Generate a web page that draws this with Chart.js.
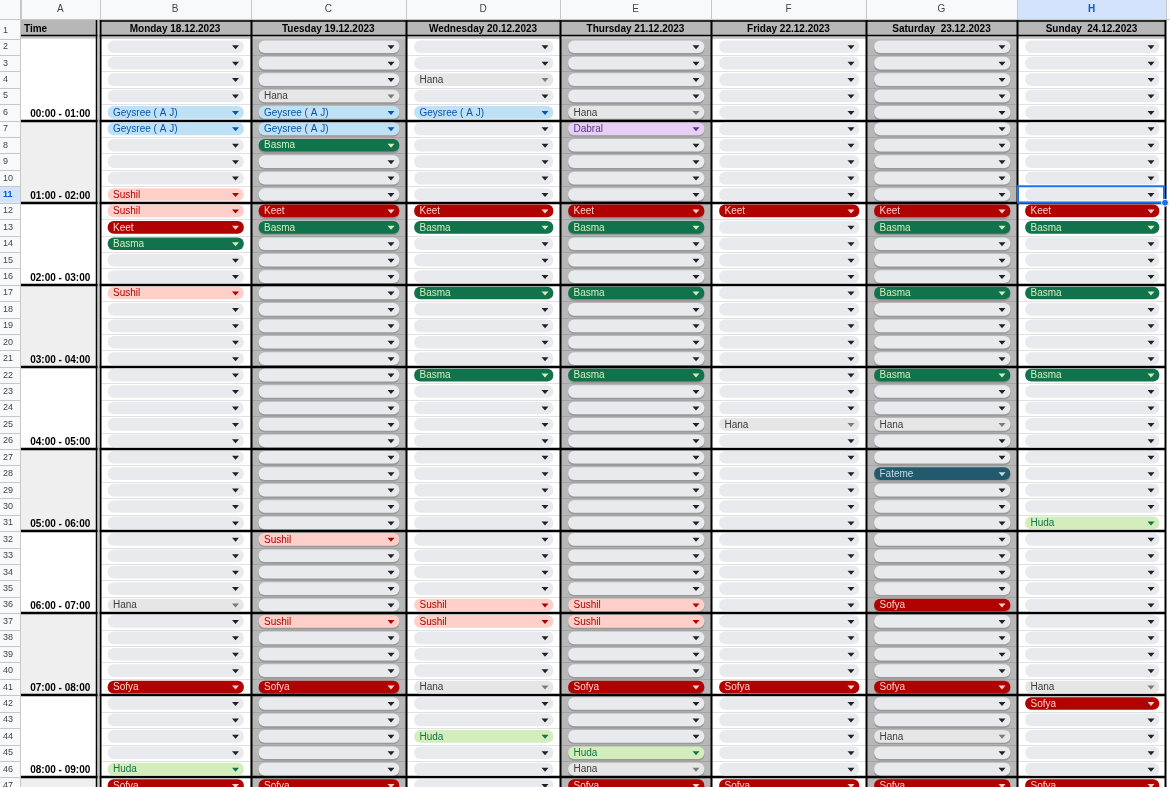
<!DOCTYPE html>
<html>
<head>
<meta charset="utf-8">
<script src="https://cdn.jsdelivr.net/npm/chart.js@4.4.1/dist/chart.umd.min.js"></script>
<style>
  html, body { margin: 0; padding: 0; background: #fff; overflow: hidden; width: 1170px; height: 787px; }
  #sheet { display: block; }
</style>
</head>
<body>
<canvas id="sheet" width="1170" height="787" style="width:1170px;height:787px"></canvas>
<script>
// ---------------- DATA ----------------
const columnLetters = ['A', 'B', 'C', 'D', 'E', 'F', 'G', 'H'];
const timeHeader = 'Time';
const days = ['Monday 18.12.2023', 'Tuesday 19.12.2023', 'Wednesday 20.12.2023', 'Thursday 21.12.2023',
              'Friday 22.12.2023', 'Saturday  23.12.2023', 'Sunday  24.12.2023'];
const timeSlots = ['00:00 - 01:00', '01:00 - 02:00', '02:00 - 03:00', '03:00 - 04:00', '04:00 - 05:00',
                   '05:00 - 06:00', '06:00 - 07:00', '07:00 - 08:00', '08:00 - 09:00'];
const rowNumbers = [1, 2, 3, 4, 5, 6, 7, 8, 9, 10, 11, 12, 13, 14, 15, 16, 17, 18, 19, 20, 21, 22, 23, 24,
                    25, 26, 27, 28, 29, 30, 31, 32, 33, 34, 35, 36, 37, 38, 39, 40, 41, 42, 43, 44, 45, 46, 47];
// rows 2 .. 47 of each day column
const monday = [
  '', '', '', '', 'Geysree ( A J)',
  'Geysree ( A J)', '', '', '', 'Sushil',
  'Sushil', 'Keet', 'Basma', '', '',
  'Sushil', '', '', '', '',
  '', '', '', '', '',
  '', '', '', '', '',
  '', '', '', '', 'Hana',
  '', '', '', '', 'Sofya',
  '', '', '', '', 'Huda',
  'Sofya'];
const tuesday = [
  '', '', '', 'Hana', 'Geysree ( A J)',
  'Geysree ( A J)', 'Basma', '', '', '',
  'Keet', 'Basma', '', '', '',
  '', '', '', '', '',
  '', '', '', '', '',
  '', '', '', '', '',
  'Sushil', '', '', '', '',
  'Sushil', '', '', '', 'Sofya',
  '', '', '', '', '',
  'Sofya'];
const wednesday = [
  '', '', 'Hana', '', 'Geysree ( A J)',
  '', '', '', '', '',
  'Keet', 'Basma', '', '', '',
  'Basma', '', '', '', '',
  'Basma', '', '', '', '',
  '', '', '', '', '',
  '', '', '', '', 'Sushil',
  'Sushil', '', '', '', 'Hana',
  '', '', 'Huda', '', '',
  ''];
const thursday = [
  '', '', '', '', 'Hana',
  'Dabral', '', '', '', '',
  'Keet', 'Basma', '', '', '',
  'Basma', '', '', '', '',
  'Basma', '', '', '', '',
  '', '', '', '', '',
  '', '', '', '', 'Sushil',
  'Sushil', '', '', '', 'Sofya',
  '', '', '', 'Huda', 'Hana',
  'Sofya'];
const friday = [
  '', '', '', '', '',
  '', '', '', '', '',
  'Keet', '', '', '', '',
  '', '', '', '', '',
  '', '', '', 'Hana', '',
  '', '', '', '', '',
  '', '', '', '', '',
  '', '', '', '', 'Sofya',
  '', '', '', '', '',
  'Sofya'];
const saturday = [
  '', '', '', '', '',
  '', '', '', '', '',
  'Keet', 'Basma', '', '', '',
  'Basma', '', '', '', '',
  'Basma', '', '', 'Hana', '',
  '', 'Fateme', '', '', '',
  '', '', '', '', 'Sofya',
  '', '', '', '', 'Sofya',
  '', '', 'Hana', '', '',
  'Sofya'];
const sunday = [
  '', '', '', '', '',
  '', '', '', '', '',
  'Keet', 'Basma', '', '', '',
  'Basma', '', '', '', '',
  'Basma', '', '', '', '',
  '', '', '', '', 'Huda',
  '', '', '', '', '',
  '', '', '', '', 'Hana',
  'Sofya', '', '', '', '',
  'Sofya'];
const schedule = [monday, tuesday, wednesday, thursday, friday, saturday, sunday];
const firstRow = 2;
const selectedCell = { day: 6, row: 11 };

// ---------------- LAYOUT / STYLE ----------------
const FONT = '"Liberation Sans", Arial, sans-serif';
const SHADE = '#b7b7b7';
const shadedDays = [false, true, false, true, false, true, false];
const chipStyles = {
  '':               { bg: '#e8eaed', fg: '#202124', arrow: '#202124' },
  'Hana':           { bg: '#e6e6e6', fg: '#3c3c3c', arrow: '#7a7a7a' },
  'Geysree ( A J)': { bg: '#bfe1f6', fg: '#0a53a8' },
  'Sushil':         { bg: '#ffcfc9', fg: '#b10202' },
  'Keet':           { bg: '#b10202', fg: '#ffcfc9' },
  'Sofya':          { bg: '#b10202', fg: '#ffcfc9' },
  'Basma':          { bg: '#11734b', fg: '#d4edbc' },
  'Huda':           { bg: '#d4edbc', fg: '#11734b' },
  'Dabral':         { bg: '#e6cff2', fg: '#5a3286' },
  'Fateme':         { bg: '#215a6c', fg: '#c6dbe1' }
};
const styleOf = n => chipStyles[n] || chipStyles[''];
// relative column widths (column A, then each day column)
const colAWidth = 78.5;
const dayColWidths = [151, 155.5, 154, 151, 155, 151, 149];
const UNIT = 152.36;
const AW = colAWidth / UNIT;
const dayEdges = [0];
dayColWidths.forEach((w, i) => dayEdges.push(dayEdges[i] + w / UNIT));
const X_MAX = dayEdges[dayEdges.length - 1];
const CANVAS_H = 787, ROW_PX = 16.42, HEADER_PX = 20;
const Y_MIN = 0.373;
const Y_MAX = Y_MIN + (CANVAS_H - HEADER_PX) / ROW_PX;
const CHIP_L = 8.5 / UNIT, CHIP_R = 7 / UNIT;
const letterCenters = [-AW / 2].concat(days.map((d, i) => (dayEdges[i] + dayEdges[i + 1]) / 2));

// ---------------- PLUGIN: sheet grid & texts ----------------
const sheetPlugin = {
  id: 'sheet',
  beforeDraw(chart) {
    const { ctx, chartArea: ca, scales: { x, y } } = chart;
    const W = chart.width, H = chart.height;
    const X = v => x.getPixelForValue(v), Y = v => y.getPixelForValue(v);
    const E = i => X(dayEdges[i]);
    ctx.save();
    ctx.fillStyle = '#fff'; ctx.fillRect(0, 0, W, H);
    // column-letter header strip
    ctx.fillStyle = '#f8f9fa'; ctx.fillRect(0, 0, W, ca.top);
    ctx.fillStyle = '#d3e3fd'; ctx.fillRect(E(selectedCell.day), 0, E(selectedCell.day + 1) - E(selectedCell.day), ca.top);
    // row-number strip
    ctx.fillStyle = '#f8f9fa'; ctx.fillRect(0, ca.top, ca.left, H - ca.top);
    ctx.fillStyle = '#d3e3fd';
    ctx.fillRect(0, Y(selectedCell.row - 0.5), ca.left, Y(selectedCell.row + 0.5) - Y(selectedCell.row - 0.5));
    ctx.strokeStyle = '#c7c7c7'; ctx.lineWidth = 1;
    ctx.beginPath();
    [X(-AW)].concat(dayEdges.map(v => X(v))).forEach(p => {
      const px = Math.round(p) + 0.5; ctx.moveTo(px, 0); ctx.lineTo(px, ca.top);
    });
    ctx.moveTo(0, ca.top - 0.5); ctx.lineTo(W, ca.top - 0.5);
    rowNumbers.forEach(r => {
      const py = Math.round(Y(r + 0.5)) + 0.5; ctx.moveTo(0, py); ctx.lineTo(ca.left, py);
    });
    ctx.moveTo(ca.left - 0.5, 0); ctx.lineTo(ca.left - 0.5, H);
    ctx.stroke();

    const r2 = Y(firstRow - 0.5);
    // header row background
    ctx.fillStyle = SHADE; ctx.fillRect(ca.left, ca.top, E(7) - ca.left, r2 - ca.top);
    // column A time groups
    for (let g = 0; g <= timeSlots.length; g++) {
      const top = Y(firstRow - 0.5 + 5 * g), bot = Math.min(Y(firstRow + 4.5 + 5 * g), H);
      ctx.fillStyle = g % 2 ? '#efefef' : '#ffffff';
      ctx.fillRect(ca.left, top, X(0) - ca.left, bot - top);
    }
    // shaded day columns
    days.forEach((d, i) => {
      if (shadedDays[i]) { ctx.fillStyle = SHADE; ctx.fillRect(E(i), r2, E(i + 1) - E(i), H - r2); }
    });
    ctx.restore();
  },
  beforeDatasetsDraw(chart) {
    const { ctx, chartArea: ca, scales: { x, y } } = chart;
    const H = chart.height;
    const X = v => x.getPixelForValue(v), Y = v => y.getPixelForValue(v);
    const E = i => X(dayEdges[i]);
    ctx.save();
    // thin row lines within day columns
    days.forEach((d, i) => {
      ctx.strokeStyle = shadedDays[i] ? '#a4a4a4' : '#e1e1e1';
      ctx.lineWidth = 1;
      ctx.beginPath();
      for (let r = firstRow; r < 47; r++) {
        if ((r - 1) % 5 === 0) continue;
        const py = Math.round(Y(r + 0.5)) + 0.5;
        ctx.moveTo(E(i), py); ctx.lineTo(E(i + 1), py);
      }
      ctx.stroke();
    });
    // chip drop shadows in shaded columns
    chart.data.datasets.forEach((ds, di) => {
      if (!shadedDays[di]) return;
      chart.getDatasetMeta(di).data.forEach(el => {
        const p = el.getProps(['x', 'y', 'base', 'height'], true);
        const l = Math.min(p.x, p.base), w = Math.abs(p.x - p.base);
        ctx.fillStyle = 'rgba(0,0,0,0.16)';
        ctx.beginPath(); ctx.roundRect(l - 0.5, p.y - p.height / 2 + 1.5, w + 1, p.height + 0.5, p.height / 2); ctx.fill();
      });
    });
    // thick black group borders
    ctx.strokeStyle = '#000'; ctx.lineWidth = 2.5;
    ctx.beginPath();
    for (let r = 6; r < 47; r += 5) {
      const py = Math.round(Y(r + 0.5));
      ctx.moveTo(ca.left, py); ctx.lineTo(E(7), py);
    }
    ctx.stroke();
    // header row borders + frozen divider
    const r2 = Y(firstRow - 0.5);
    ctx.fillStyle = '#c4c4c4'; ctx.fillRect(ca.left, r2 - 2.5, E(7) - ca.left, 2.5);
    ctx.strokeStyle = '#000'; ctx.lineWidth = 1.5;
    ctx.beginPath();
    ctx.moveTo(E(0), ca.top + 1); ctx.lineTo(E(7), ca.top + 1);
    ctx.moveTo(ca.left, r2 - 3); ctx.lineTo(E(7), r2 - 3);
    ctx.stroke();
    // vertical column borders
    ctx.lineWidth = 2;
    ctx.beginPath();
    for (let i = 0; i <= 7; i++) {
      const px = Math.round(E(i)) + (i === 7 ? -0.5 : 0.5);
      ctx.moveTo(px, ca.top); ctx.lineTo(px, H);
    }
    ctx.stroke();
    const x0 = Math.round(E(0));
    ctx.fillStyle = '#c4c4c4'; ctx.fillRect(x0 - 2.5, ca.top, 2, H - ca.top);
    ctx.strokeStyle = '#000'; ctx.lineWidth = 1.5;
    ctx.beginPath(); ctx.moveTo(x0 - 3.5, ca.top); ctx.lineTo(x0 - 3.5, H); ctx.stroke();
    ctx.restore();
  },
  afterDatasetsDraw(chart) {
    const { ctx, chartArea: ca, scales: { x, y } } = chart;
    const X = v => x.getPixelForValue(v), Y = v => y.getPixelForValue(v);
    ctx.save();
    // chip labels and arrows
    chart.data.datasets.forEach((ds, di) => {
      chart.getDatasetMeta(di).data.forEach((el, j) => {
        const p = el.getProps(['x', 'y', 'base'], true);
        const left = Math.min(p.x, p.base), right = Math.max(p.x, p.base);
        const name = ds.data[j].name;
        const st = styleOf(name);
        if (name) {
          ctx.font = '10px ' + FONT; ctx.fillStyle = st.fg;
          ctx.textAlign = 'left'; ctx.textBaseline = 'middle';
          ctx.fillText(name, left + 5, p.y + 0.5);
        }
        const ax = right - 8, ay = p.y + 0.5;
        ctx.fillStyle = st.arrow || st.fg;
        ctx.beginPath(); ctx.moveTo(ax - 3.5, ay - 2); ctx.lineTo(ax + 3.5, ay - 2); ctx.lineTo(ax, ay + 2); ctx.closePath(); ctx.fill();
      });
    });
    // header row texts
    const r2 = Y(firstRow - 0.5);
    const hy = (ca.top + r2) / 2;
    ctx.fillStyle = '#000'; ctx.font = 'bold 10px ' + FONT; ctx.textBaseline = 'middle';
    ctx.textAlign = 'left'; ctx.fillText(timeHeader, ca.left + 3, hy);
    ctx.textAlign = 'center';
    days.forEach((d, i) => ctx.fillText(d, X(letterCenters[i + 1]), hy));
    // time slot labels (bottom row of each group)
    timeSlots.forEach((t, g) => ctx.fillText(t, X(letterCenters[0]), Y(firstRow + 4 + 5 * g) + 1.5));
    ctx.restore();
  },
  afterDraw(chart) {
    const { ctx, scales: { x, y } } = chart;
    const X = v => x.getPixelForValue(v), Y = v => y.getPixelForValue(v);
    const l = X(dayEdges[selectedCell.day]) + 1, r = X(dayEdges[selectedCell.day + 1]) - 2;
    const t = Y(selectedCell.row - 0.5), b = Y(selectedCell.row + 0.5);
    ctx.save();
    ctx.strokeStyle = '#1a73e8'; ctx.lineWidth = 2;
    ctx.strokeRect(l, t, r - l, b - t);
    ctx.beginPath(); ctx.arc(r + 1, b, 3.5, 0, Math.PI * 2);
    ctx.fillStyle = '#1a73e8'; ctx.fill();
    ctx.strokeStyle = '#fff'; ctx.lineWidth = 1; ctx.stroke();
    ctx.restore();
  }
};

// ---------------- CHART ----------------
new Chart(document.getElementById('sheet'), {
  type: 'bar',
  data: {
    datasets: schedule.map((col, i) => ({
      label: days[i],
      data: col.map((name, j) => ({ y: firstRow + j, x: [dayEdges[i] + CHIP_L, dayEdges[i + 1] - CHIP_R], name: name })),
      grouped: false,
      barThickness: 12,
      borderRadius: 6,
      borderSkipped: false,
      borderWidth: 0,
      backgroundColor: ctx => styleOf(ctx.raw ? ctx.raw.name : '').bg
    }))
  },
  options: {
    indexAxis: 'y',
    responsive: false,
    maintainAspectRatio: false,
    devicePixelRatio: 1,
    animation: false,
    events: [],
    layout: { autoPadding: false, padding: { left: 3, right: 4, top: 0, bottom: 0 } },
    plugins: { legend: { display: false }, tooltip: { enabled: false } },
    scales: {
      x: {
        type: 'linear', position: 'top', min: -AW, max: X_MAX, offset: false,
        afterBuildTicks: s => { s.ticks = letterCenters.map(v => ({ value: v })); },
        afterFit: s => { s.height = HEADER_PX; s.paddingLeft = 0; s.paddingRight = 0; },
        grid: { display: false, drawTicks: false, offset: false },
        border: { display: false },
        ticks: {
          autoSkip: false, maxRotation: 0, padding: 5,
          font: ctx => ({ family: FONT, size: 10, weight: ctx.index === selectedCell.day + 1 ? 'bold' : 'normal' }),
          color: ctx => ctx.index === selectedCell.day + 1 ? '#0b57d0' : '#444746',
          callback: (v, i) => columnLetters[i]
        }
      },
      y: {
        type: 'linear', reverse: true, min: Y_MIN, max: Y_MAX, offset: false,
        afterBuildTicks: s => { s.ticks = rowNumbers.map(v => ({ value: v })); },
        afterFit: s => { s.width = 18; s.paddingTop = 0; s.paddingBottom = 0; },
        grid: { display: false, drawTicks: false, offset: false },
        border: { display: false },
        ticks: {
          autoSkip: false, crossAlign: 'far', padding: 0,
          font: ctx => ({ family: FONT, size: 9, weight: ctx.index === selectedCell.row - 1 ? 'bold' : 'normal' }),
          color: ctx => ctx.index === selectedCell.row - 1 ? '#0b57d0' : '#444746',
          callback: (v, i) => rowNumbers[i]
        }
      }
    }
  },
  plugins: [sheetPlugin]
});
</script>
</body>
</html>
